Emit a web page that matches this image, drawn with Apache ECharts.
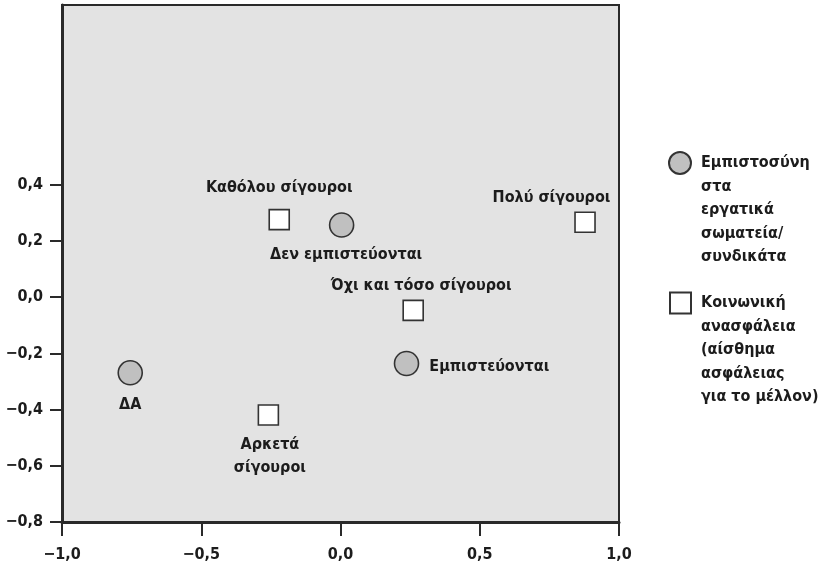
<!DOCTYPE html>
<html>
<head>
<meta charset="utf-8">
<script src="https://cdn.jsdelivr.net/npm/echarts@6/dist/echarts.min.js"></script>
<style>
html,body{margin:0;padding:0;background:#fff;}
#c{width:820px;height:568px;}
</style>
</head>
<body>
<div id="c"></div>
<script>
// ---- data ----
const trustSeriesName = 'Εμπιστοσύνη\nστα\nεργατικά\nσωματεία/\nσυνδικάτα';
const secSeriesName = 'Κοινωνική\nανασφάλεια\n(αίσθημα\nασφάλειας\nγια το μέλλον)';
const trustNames = ['ΔΑ', 'Δεν εμπιστεύονται', 'Εμπιστεύονται'];
const trustX = [-0.755, 0.004, 0.237];
const trustY = [-0.269, 0.257, -0.236];
const secNames = ['Καθόλου σίγουροι', 'Πολύ σίγουροι', 'Όχι και τόσο σίγουροι', 'Αρκετά\nσίγουροι'];
const secX = [-0.220, 0.878, 0.261, -0.259];
const secY = [0.276, 0.267, -0.047, -0.419];
const xTicks = [-1.0, -0.5, 0.0, 0.5, 1.0];
const yTicks = [-0.8, -0.6, -0.4, -0.2, 0.0, 0.2, 0.4];

// ---- styling ----
const FONT = "'Liberation Sans Narrow', 'DejaVu Sans Condensed', 'Noto Sans', sans-serif";
const FS = 16;
const INK = '#1c1c1c';
const LEG_LH = 23.5;
const trustLabelStyle = [
  {position: 'inside', offset: [0, 32]},
  {position: 'inside', offset: [4.5, 29.5]},
  {position: 'right', distance: 10, offset: [0, 3]}
];
const secLabelStyle = [
  {position: 'inside', offset: [0, -32]},
  {position: 'inside', offset: [-33.5, -24.5]},
  {position: 'inside', offset: [8, -25]},
  {position: 'inside', offset: [1.5, 41]}
];
const fmt = v => (Math.abs(v) < 1e-9 ? '0,0' : v.toFixed(1).replace('.', ',').replace('-', '\u2212'));

function buildData(names, xs, ys, labelStyles) {
  return names.map((n, i) => ({
    name: n,
    value: [xs[i], ys[i]],
    label: Object.assign({}, labelStyles[i])
  }));
}

const labelCommon = {
  show: true,
  formatter: p => p.name,
  fontFamily: FONT,
  fontWeight: 'bold',
  fontSize: FS,
  lineHeight: 23,
  color: INK
};

// pad the legend text with empty leading lines so that its first real line
// sits level with the icon (legend text is centred on the icon)
const legendFormatter = name => {
  const n = name.split('\n').length;
  return '\n'.repeat(n - 1) + name;
};
const legendText = {
  fontFamily: FONT,
  fontWeight: 'bold',
  fontSize: FS,
  lineHeight: LEG_LH,
  color: INK,
  padding: [0, 0, 0, 5]
};
const legendHalf = (n) => (2 * n - 1) * LEG_LH / 2;

const chart = echarts.init(document.getElementById('c'), null, {renderer: 'canvas'});
chart.setOption({
  animation: false,
  backgroundColor: '#ffffff',
  textStyle: {fontFamily: FONT},
  grid: {
    left: 62, right: 201, top: 5, bottom: 46,
    outerBoundsMode: 'none',
    containLabel: false,
    show: true,
    backgroundColor: '#e3e3e3',
    borderColor: '#2a2a2a',
    borderWidth: 2
  },
  xAxis: {
    type: 'value',
    min: -1, max: 1, interval: 0.5,
    splitLine: {show: false},
    axisLine: {show: true, onZero: false, lineStyle: {color: '#2a2a2a', width: 3}},
    axisTick: {show: true, length: 14, lineStyle: {color: '#2a2a2a', width: 2}, customValues: xTicks},
    axisLabel: {
      customValues: xTicks,
      margin: 25, fontFamily: FONT, fontWeight: 'bold', fontSize: FS, color: INK,
      formatter: fmt
    }
  },
  yAxis: {
    type: 'value',
    min: -0.8, max: 1.04,
    splitLine: {show: false},
    axisLine: {show: true, onZero: false, lineStyle: {color: '#2a2a2a', width: 3}},
    axisTick: {show: true, length: 12, lineStyle: {color: '#2a2a2a', width: 2}, customValues: yTicks},
    axisLabel: {
      customValues: yTicks,
      margin: 19, fontFamily: FONT, fontWeight: 'bold', fontSize: FS, color: INK,
      formatter: fmt
    }
  },
  legend: [
    {
      data: [trustSeriesName],
      orient: 'vertical',
      left: 668, top: 163 - legendHalf(5),
      padding: 0,
      itemWidth: 22, itemHeight: 22,
      selectedMode: false,
      formatter: legendFormatter,
      textStyle: legendText
    },
    {
      data: [secSeriesName],
      orient: 'vertical',
      left: 669, top: 303 - legendHalf(5),
      padding: 0,
      itemWidth: 21, itemHeight: 21,
      selectedMode: false,
      formatter: legendFormatter,
      textStyle: legendText
    }
  ],
  series: [
    {
      name: trustSeriesName,
      type: 'scatter',
      symbol: 'circle',
      symbolSize: 24,
      itemStyle: {color: '#c0c0c0', borderColor: '#333', borderWidth: 1.6, opacity: 1},
      label: labelCommon,
      emphasis: {disabled: true},
      data: buildData(trustNames, trustX, trustY, trustLabelStyle)
    },
    {
      name: secSeriesName,
      type: 'scatter',
      symbol: 'rect',
      symbolSize: 20,
      itemStyle: {color: '#ffffff', borderColor: '#333', borderWidth: 1.6, opacity: 1},
      label: labelCommon,
      emphasis: {disabled: true},
      data: buildData(secNames, secX, secY, secLabelStyle)
    }
  ]
});
</script>
</body>
</html>
